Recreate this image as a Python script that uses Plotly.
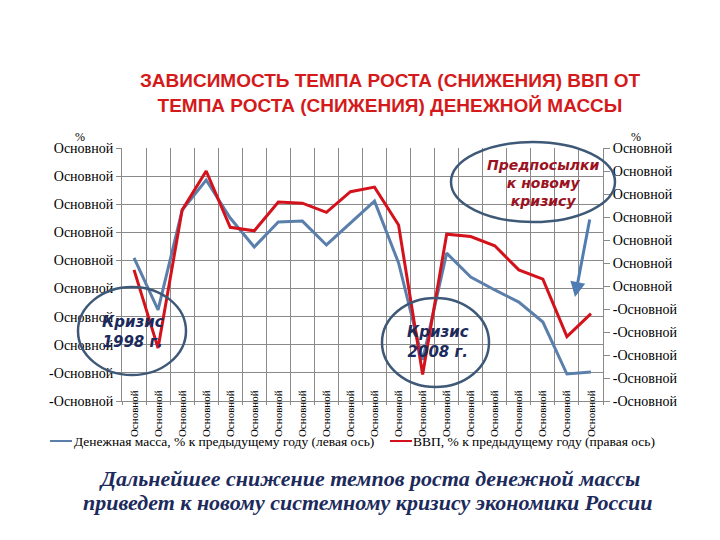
import plotly.graph_objects as go

years = [1997, 1998, 1999, 2000, 2001, 2002, 2003, 2004, 2005, 2006,
         2007, 2008, 2009, 2010, 2011, 2012, 2013, 2014, 2015, 2016]
x_labels = ["Основной", "Основной", "Основной", "Основной", "Основной",
            "Основной", "Основной", "Основной", "Основной", "Основной",
            "Основной", "Основной", "Основной", "Основной", "Основной",
            "Основной", "Основной", "Основной", "Основной", "Основной"]
money_growth = [30.9, 12.4, 47.9, 58.6, 45.1, 34.8, 43.7, 44.0, 35.5, 43.3,
                51.1, 29.1, -5.4, 32.6, 24.1, 19.5, 15.2, 8.1, -10.4, -9.7]
gdp_growth = [1.4, -5.4, 6.6, 10.0, 5.1, 4.8, 7.3, 7.2, 6.4, 8.2,
              8.6, 5.3, -7.7, 4.5, 4.3, 3.5, 1.4, 0.6, -4.4, -2.4]

left_ticks = [-20, -10, 0, 10, 20, 30, 40, 50, 60, 70]
left_labels = ["-Основной", "-Основной", "Основной", "Основной", "Основной",
               "Основной", "Основной", "Основной", "Основной", "Основной"]
right_ticks = [-10, -8, -6, -4, -2, 0, 2, 4, 6, 8, 10, 12]
right_labels = ["-Основной", "-Основной", "-Основной", "-Основной", "-Основной",
                "Основной", "Основной", "Основной", "Основной", "Основной",
                "Основной", "Основной"]
grid_edges = [y - 0.5 for y in years] + [years[-1] + 0.5]

legend_money = "Денежная масса, % к предыдущему году (левая ось)"
legend_gdp = "ВВП, % к предыдущему году (правая ось)"

BLUE = "#5a7fab"
RED = "#d3121c"
GRID = "#8a8a8a"
SERIF = "Liberation Serif, Times New Roman, serif"
SANS = "DejaVu Sans, Verdana, sans-serif"
OFF = 8  # page body margin offset

fig = go.Figure()
fig.add_trace(go.Scatter(x=years, y=money_growth, mode="lines", name=legend_money,
                         line=dict(color=BLUE, width=3), yaxis="y"))
fig.add_trace(go.Scatter(x=years, y=gdp_growth, mode="lines", name=legend_gdp,
                         line=dict(color=RED, width=3), yaxis="y2"))

fig.update_layout(
    width=720, height=540,
    margin=dict(l=122 - OFF, r=720 - 603 + OFF, t=148 - OFF, b=540 - 401 + OFF),
    paper_bgcolor="white", plot_bgcolor="white",
    title=dict(
        text="ЗАВИСИМОСТЬ ТЕМПА РОСТА (СНИЖЕНИЯ) ВВП ОТ<br>ТЕМПА РОСТА (СНИЖЕНИЯ) ДЕНЕЖНОЙ МАССЫ",
        x=(390 - OFF) / 720, xanchor="center", y=1 - (87 - OFF) / 540, yanchor="middle",
        font=dict(family="Liberation Sans, Arial, sans-serif", size=19, color="#d41a1a", weight="bold"),
    ),
    xaxis=dict(
        range=[years[0] - 0.5, years[-1] + 0.5],
        tickvals=years, ticktext=x_labels, tickangle=-90,
        tickfont=dict(family=SERIF, size=11, color="black"),
        ticks="", ticklabelstandoff=-16,
        showgrid=False, zeroline=False,
        showline=True, linecolor=GRID, linewidth=1,
        minor=dict(tickvals=grid_edges, showgrid=True, gridcolor=GRID, gridwidth=1,
                   ticks="outside", ticklen=3, tickcolor=GRID),
    ),
    yaxis=dict(
        range=[-20, 70], tickvals=left_ticks, ticktext=left_labels,
        tickfont=dict(family=SERIF, size=14, color="black"),
        showgrid=True, gridcolor=GRID, gridwidth=1, zeroline=False,
        showline=True, linecolor=GRID, linewidth=1,
        ticks="outside", ticklen=5, tickcolor=GRID,
    ),
    yaxis2=dict(
        range=[-10, 12], tickvals=right_ticks, ticktext=right_labels,
        overlaying="y", side="right",
        tickfont=dict(family=SERIF, size=14, color="black"),
        showgrid=False, zeroline=False,
        showline=True, linecolor=GRID, linewidth=1,
        ticks="outside", ticklen=6, tickcolor=GRID,
    ),
    showlegend=False,
)

def px_x(p):
    return (p - 122) / 481

def px_y(p):
    return (401 - p) / 253

ELL = "#3e5878"
shapes = [
    dict(type="circle", xref="paper", yref="paper", x0=px_x(78), x1=px_x(186),
         y0=px_y(375), y1=px_y(287), line=dict(color=ELL, width=2.5)),
    dict(type="circle", xref="paper", yref="paper", x0=px_x(382), x1=px_x(489),
         y0=px_y(387), y1=px_y(298), line=dict(color=ELL, width=2.5)),
    dict(type="circle", xref="paper", yref="paper", x0=px_x(451), x1=px_x(615),
         y0=px_y(222), y1=px_y(142), line=dict(color=ELL, width=2.5)),
    # legend keys
    dict(type="line", xref="paper", yref="paper", x0=px_x(50), x1=px_x(72),
         y0=px_y(441), y1=px_y(441), line=dict(color=BLUE, width=2)),
    dict(type="line", xref="paper", yref="paper", x0=px_x(390), x1=px_x(412),
         y0=px_y(441), y1=px_y(441), line=dict(color=RED, width=2)),
]
fig.update_layout(shapes=shapes)

NAVY = "#1c2a5c"
C = dict(xref="paper", yref="paper", xanchor="center", yanchor="middle", showarrow=False)
L = dict(xref="paper", yref="paper", xanchor="left", yanchor="middle", showarrow=False)
ann = [
    dict(text="Кризис<br>1998 г.", x=px_x(133), y=px_y(332),
         font=dict(family=SANS, size=15, color=NAVY, weight="bold", style="italic"), **C),
    dict(text="Кризис<br>2008 г.", x=px_x(438), y=px_y(342),
         font=dict(family=SANS, size=15, color=NAVY, weight="bold", style="italic"), **C),
    dict(text="Предпосылки<br>к новому<br>кризису", x=px_x(543), y=px_y(183),
         font=dict(family=SANS, size=14, color="#9b1222", weight="bold", style="italic"), **C),
    dict(text="%", x=px_x(80), y=px_y(137), font=dict(family=SERIF, size=12, color="black"), **C),
    dict(text="%", x=px_x(636), y=px_y(137), font=dict(family=SERIF, size=12, color="black"), **C),
    dict(text=legend_money, x=px_x(72), y=px_y(441),
         font=dict(family=SERIF, size=13.5, color="black"), **L),
    dict(text=legend_gdp, x=px_x(411), y=px_y(441),
         font=dict(family=SERIF, size=13.5, color="black"), **L),
    dict(text="Дальнейшее снижение темпов роста денежной массы",
         x=px_x(369), y=px_y(478),
         font=dict(family=SERIF, size=22, color=NAVY, weight="bold", style="italic"), **C),
    dict(text="приведет к новому системному кризису экономики России",
         x=px_x(367), y=px_y(502),
         font=dict(family=SERIF, size=22, color=NAVY, weight="bold", style="italic"), **C),
    dict(text="", x=px_x(575), y=px_y(297), xref="paper", yref="paper",
         showarrow=True, ax=15, ay=-79, arrowcolor="#4f7db3", arrowwidth=3, arrowhead=2, arrowsize=1),
]
fig.update_layout(annotations=ann)

fig.write_html("out.html")
